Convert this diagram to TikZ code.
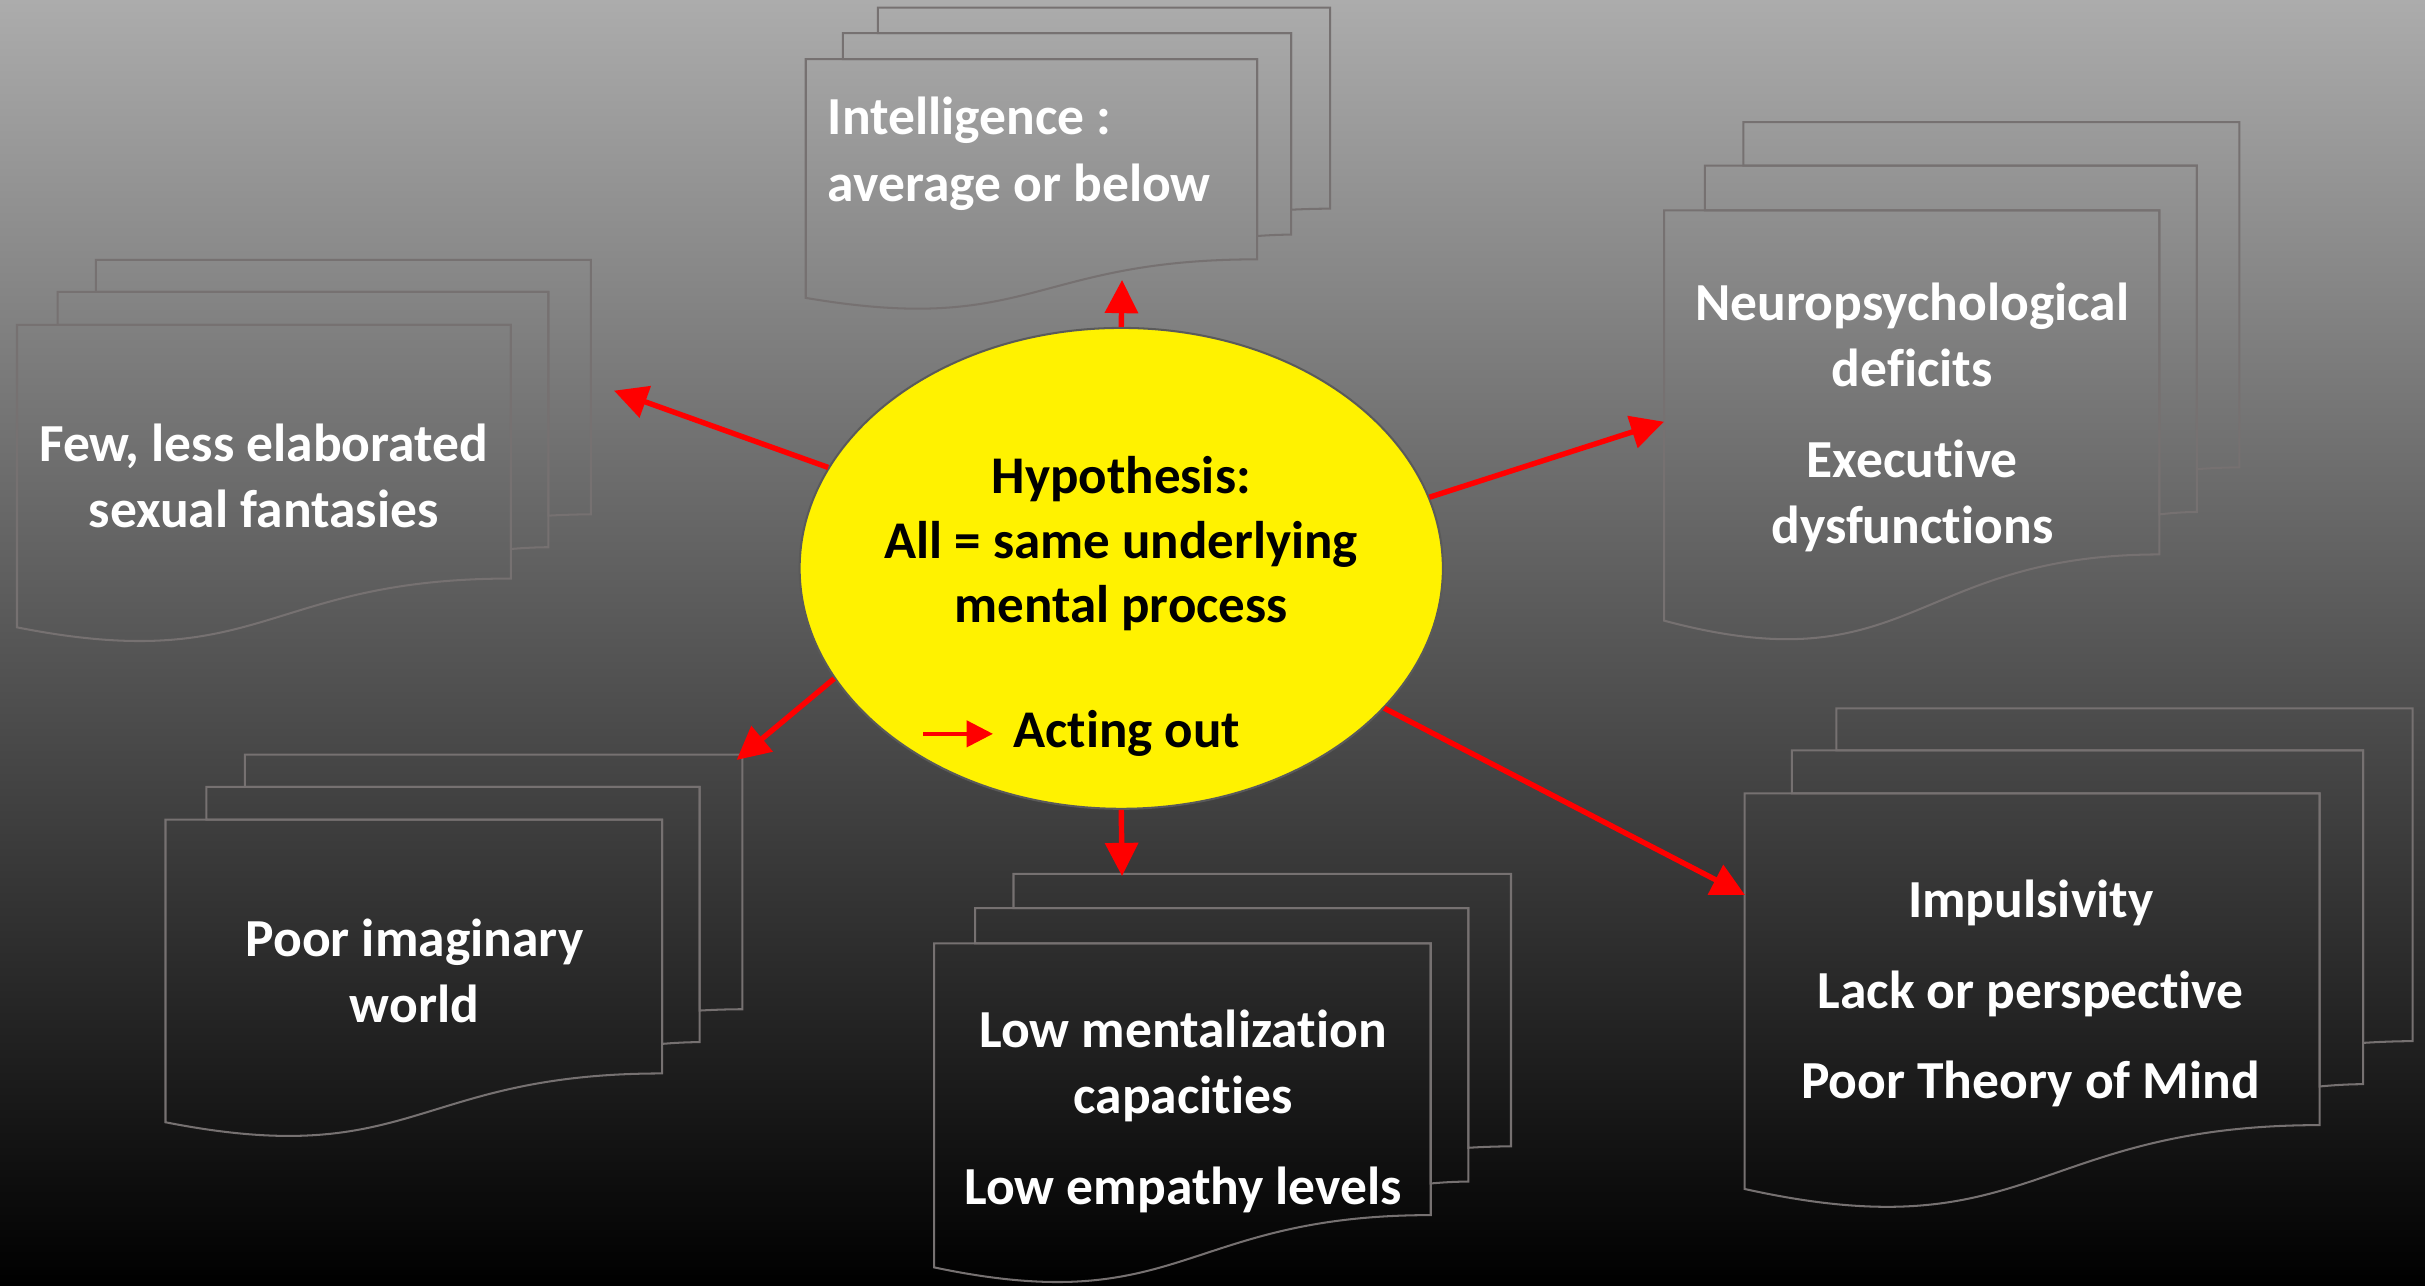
\documentclass[tikz,border=0pt]{standalone}
\usepackage{fontspec}
\setmainfont{Carlito}[Ligatures={NoCommon,NoDiscretionary,NoRare}]
\usetikzlibrary{arrows.meta,shapes.geometric}
\definecolor{bgtop}{RGB}{172,172,172}
\definecolor{bgbot}{RGB}{0,0,0}
\definecolor{docline}{RGB}{118,113,113}
\definecolor{ellline}{RGB}{90,90,90}
\tikzset{
  docpath/.style={draw=docline, line width=0.75pt},
  redarrow/.style={draw=red, line width=0.07cm, -{Triangle[length=0.43cm,width=0.42cm]}},
  smallarrow/.style={draw=red, line width=0.045cm, -{Triangle[length=0.34cm,width=0.34cm]}},
  doctext/.style={text=white, font=\fontsize{19.7}{24.4}\selectfont\bfseries, align=center, inner sep=0pt},
  hyptext/.style={text=black, font=\fontsize{19.5}{23.6}\selectfont\bfseries, align=center, inner sep=0pt},
  hypshape/.style={ellipse, fill=yellow, draw=ellline, line width=0.75pt, minimum width=8.32cm, minimum height=6.22cm, inner sep=0pt},
}
\newcommand\mdocstack[4]{%
  \begin{scope}[shift={(#1,#2)}, xscale=#3, yscale=#4]
    \draw[docpath] (0,0.96213) .. controls (0.43046,1.08991) and (0.43046,0.83435) .. (0.86088,0.83435) -- (0.86088,0.17014) -- (0,0.17014) -- cycle;
    \draw[docpath] (0.07093,0.17014) -- (0.07093,0.08403) -- (0.92593,0.08403) -- (0.92593,0.75241) .. controls (0.89343,0.75241) and (0.86088,0.75704) .. (0.86088,0.75704) -- (0.86088,0.17014) -- cycle;
    \draw[docpath] (0.13759,0.08403) -- (0.13759,0) -- (1,0) -- (1,0.66630) .. controls (0.96296,0.66630) and (0.92593,0.66977) .. (0.92593,0.66977) -- (0.92593,0.08403) -- cycle;
  \end{scope}}
\begin{document}
\begin{tikzpicture}[x=0.02cm, y=-0.02cm]
  \shade[top color=bgtop, bottom color=bgbot] (0,0) rectangle (1568,831);
  \useasboundingbox (0,0) rectangle (1568,831);

  % document stacks
  \mdocstack{521}{5}{339}{195}
  \mdocstack{11}{168}{371}{247}
  \mdocstack{1076}{79}{372}{335}
  \mdocstack{107}{488}{373}{247}
  \mdocstack{604}{565}{373}{264.5}
  \mdocstack{1128}{458}{432}{323}

  % texts of documents
  \node[doctext, align=left, anchor=west] (intel) at (535,99.5) {Intelligence :\\average or below};
  \node[doctext] (few) at (170.5,307.5) {Few, less elaborated\\sexual fantasies};
  \node[doctext] (neuro) at (1236.5,270) {Neuropsychological\\deficits\\[0.32cm]Executive\\dysfunctions};
  \node[doctext] (poor) at (268,628) {Poor imaginary\\world};
  \node[doctext] (lowment) at (765,718.5) {Low mentalization\\capacities\\[0.32cm]Low empathy levels};
  \node[doctext] (impuls) at (1313,642.5) {Impulsivity\\[0.31cm]Lack or perspective\\[0.31cm]Poor Theory of Mind};

  % central ellipse
  \node[hypshape] (hyp) at (725,367.5) {};
  \node[hyptext] (hyptxt) at (725,351.5) {Hypothesis:\\All = same underlying\\mental process};
  \node[hyptext, anchor=west, inner xsep=0.26cm] (act) at (642,474.5) {Acting out};
  \coordinate (saStart) at (597,474.5);
  \draw[smallarrow] (saStart) -- (act.west);

  % arrow tips
  \coordinate (tUp) at (725.5,181);
  \coordinate (tFew) at (397,252.6);
  \coordinate (tNeuro) at (1076,272.7);
  \coordinate (tPoor) at (476.3,491.4);
  \coordinate (tLow) at (725.5,566.5);
  \coordinate (tImp) at (1128.3,578.7);

  \draw[redarrow] (hyp.90) -- (tUp);
  \draw[redarrow] (hyp.161.7) -- (tFew);
  \draw[redarrow] (hyp.13.6) -- (tNeuro);
  \draw[redarrow] (hyp.201.7) -- (tPoor);
  \draw[redarrow] (hyp.270) -- (tLow);
  \draw[redarrow] (hyp.332.9) -- (tImp);
\end{tikzpicture}
\end{document}
